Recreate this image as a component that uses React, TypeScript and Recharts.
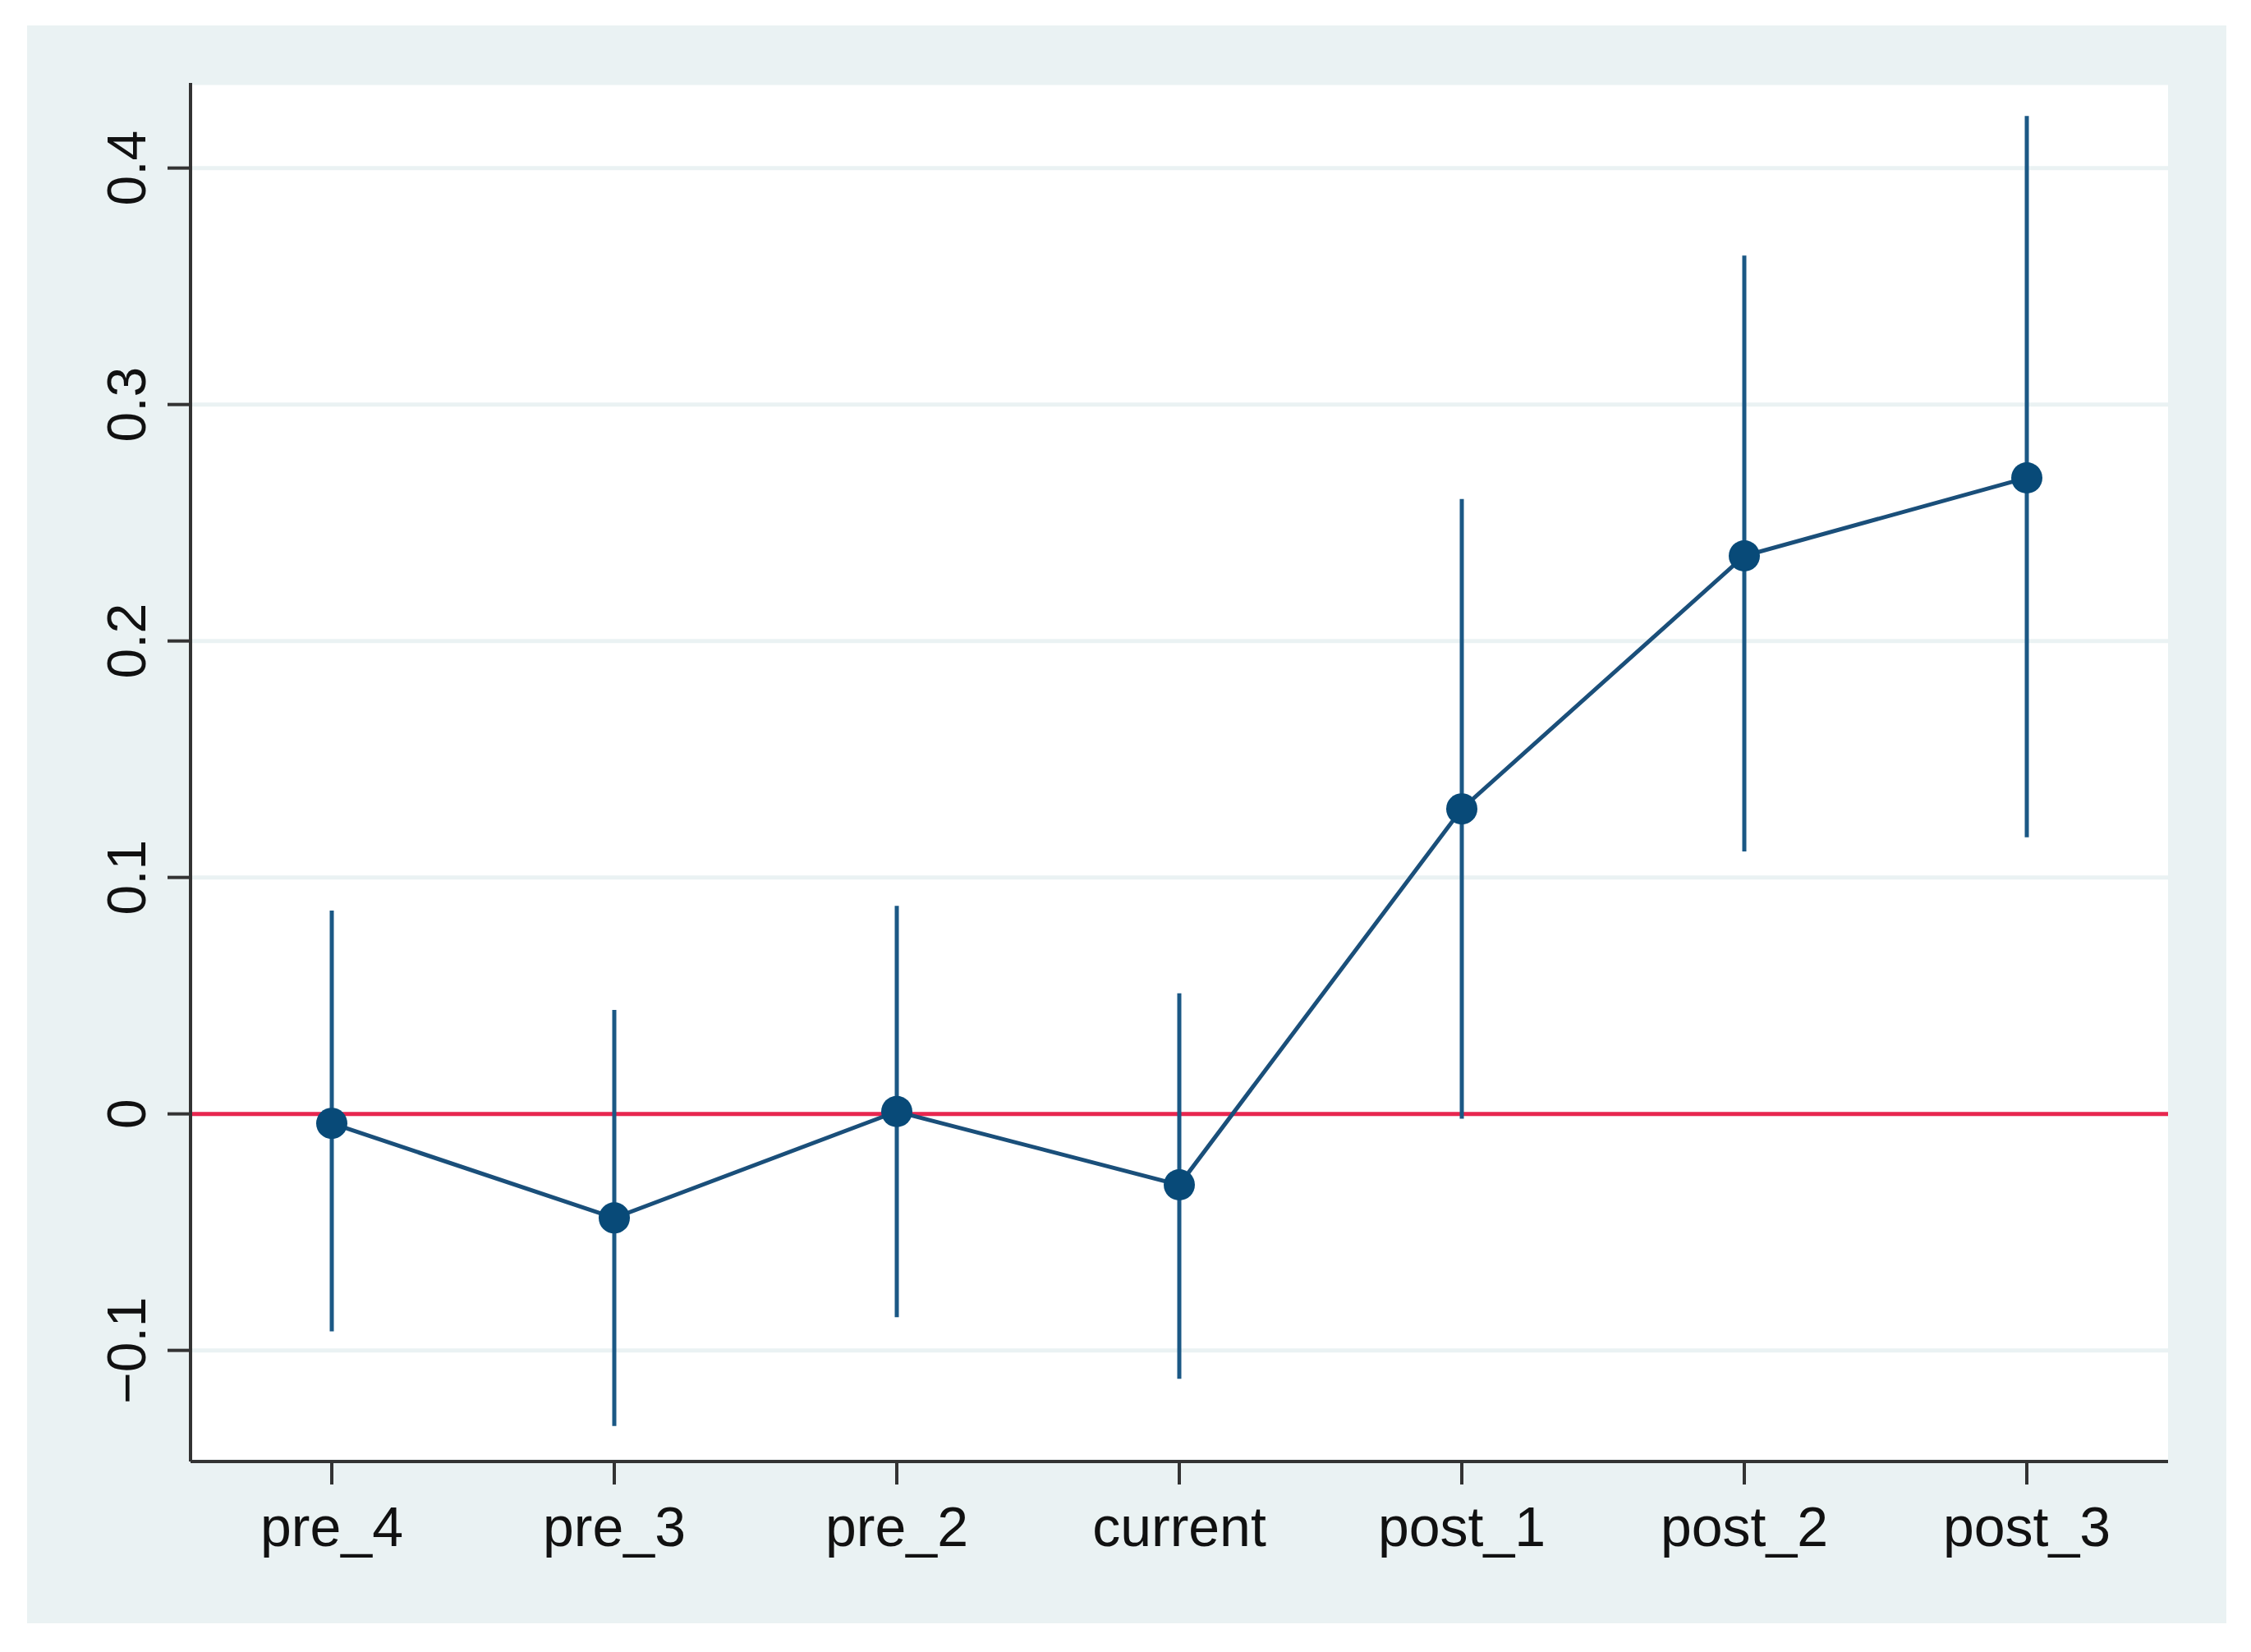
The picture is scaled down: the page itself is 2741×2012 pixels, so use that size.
import {
  ComposedChart,
  Line,
  XAxis,
  YAxis,
  CartesianGrid,
  ReferenceLine,
  ErrorBar,
} from "recharts";

const periods = ["pre_4", "pre_3", "pre_2", "current", "post_1", "post_2", "post_3"];
const coef = [-0.004, -0.044, 0.001, -0.03, 0.129, 0.236, 0.269];
const ciLow = [-0.092, -0.132, -0.086, -0.112, -0.002, 0.111, 0.117];
const ciHigh = [0.086, 0.044, 0.088, 0.051, 0.26, 0.363, 0.422];
const yTicks = [-0.1, 0, 0.1, 0.2, 0.3, 0.4];

const data = periods.map((p, i) => ({
  x: i,
  period: p,
  coef: coef[i],
  ci: [coef[i] - ciLow[i], ciHigh[i] - coef[i]],
}));

const font = "'Liberation Sans', Arial, sans-serif";
const axisColor = "#333";

const fmtY = (v: number) => (v === 0 ? "0" : v < 0 ? "\u2212" + Math.abs(v) : String(v));

function YTick({ x, y, payload }: any) {
  return (
    <text
      x={x}
      y={y}
      transform={`rotate(-90, ${x}, ${y})`}
      textAnchor="middle"
      fontSize={66}
      fontFamily={font}
      fill="#111"
    >
      {fmtY(payload.value)}
    </text>
  );
}

export default function App() {
  return (
    <div style={{ position: "absolute", left: 0, top: 0, width: 2741, height: 2012, background: "#fff" }}>
      <div
        style={{
          position: "absolute",
          left: 33,
          top: 31,
          width: 2678,
          height: 1946,
          background: "#eaf2f3",
        }}
      >
        <ComposedChart
          width={2678}
          height={1946}
          data={data}
          margin={{ top: 70, right: 71, bottom: 77, left: 49 }}
        >
          <CartesianGrid vertical={false} fill="#fff" stroke="#eaf2f3" strokeWidth={5} />
          <XAxis
            dataKey="x"
            type="number"
            domain={[-0.5, 6.5]}
            ticks={[0, 1, 2, 3, 4, 5, 6]}
            interval={0}
            allowDataOverflow
            tickFormatter={(v) => periods[v]}
            height={120}
            tickSize={28}
            tickMargin={27}
            axisLine={{ stroke: axisColor, strokeWidth: 4 }}
            tickLine={{ stroke: axisColor, strokeWidth: 4 }}
            tick={{ fontSize: 68, fill: "#111", fontFamily: font }}
          />
          <YAxis
            type="number"
            domain={[-0.147, 0.436]}
            ticks={yTicks}
            interval={0}
            allowDataOverflow
            width={150}
            tickSize={28}
            tickMargin={27}
            axisLine={{ stroke: axisColor, strokeWidth: 4 }}
            tickLine={{ stroke: axisColor, strokeWidth: 4 }}
            tick={<YTick />}
          />
          <ReferenceLine y={0} stroke="#e8264f" strokeWidth={5} />
          <Line
            dataKey="coef"
            stroke="#1a4f7a"
            strokeWidth={5}
            dot={{ r: 19, fill: "#084a78", stroke: "none", strokeWidth: 0 }}
            activeDot={false}
            isAnimationActive={false}
          >
            <ErrorBar dataKey="ci" width={0} stroke="#1b5885" strokeWidth={5} direction="y" />
          </Line>
        </ComposedChart>
      </div>
    </div>
  );
}
